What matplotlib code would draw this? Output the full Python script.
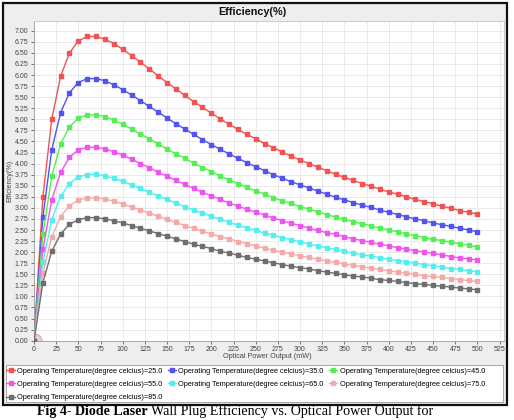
import matplotlib.pyplot as plt
from matplotlib.patches import Rectangle

# optical power output (mW)
power = [0, 10, 20, 30, 40, 50, 60, 70, 80, 90, 100, 110, 120, 130, 140, 150, 160, 170, 180, 190,
         200, 210, 220, 230, 240, 250, 260, 270, 280, 290, 300, 310, 320, 330, 340, 350, 360, 370,
         380, 390, 400, 410, 420, 430, 440, 450, 460, 470, 480, 490, 500]

# efficiency (%) for each operating temperature
eff_25 = [0, 3.24, 5.00, 5.97, 6.50, 6.77, 6.87, 6.87, 6.81, 6.71, 6.58, 6.44, 6.29, 6.14, 5.98, 5.83,
          5.69, 5.54, 5.40, 5.27, 5.14, 5.01, 4.89, 4.77, 4.66, 4.56, 4.45, 4.36, 4.26, 4.17, 4.08,
          4.00, 3.92, 3.84, 3.76, 3.69, 3.62, 3.55, 3.49, 3.42, 3.36, 3.31, 3.25, 3.19, 3.14, 3.09,
          3.04, 2.99, 2.94, 2.90, 2.86]
eff_35 = [0, 2.79, 4.31, 5.15, 5.60, 5.83, 5.92, 5.92, 5.87, 5.78, 5.67, 5.55, 5.42, 5.29, 5.16, 5.03,
          4.90, 4.78, 4.66, 4.54, 4.43, 4.32, 4.22, 4.12, 4.02, 3.93, 3.84, 3.75, 3.67, 3.59, 3.52,
          3.45, 3.38, 3.31, 3.24, 3.18, 3.12, 3.06, 3.01, 2.95, 2.90, 2.85, 2.80, 2.75, 2.71, 2.66,
          2.62, 2.58, 2.54, 2.50, 2.46]
eff_45 = [0, 2.40, 3.71, 4.44, 4.83, 5.03, 5.10, 5.10, 5.06, 4.98, 4.89, 4.78, 4.67, 4.56, 4.44, 4.33,
          4.22, 4.12, 4.01, 3.91, 3.82, 3.72, 3.63, 3.55, 3.46, 3.38, 3.31, 3.23, 3.16, 3.10, 3.03,
          2.97, 2.91, 2.85, 2.79, 2.74, 2.69, 2.64, 2.59, 2.54, 2.50, 2.46, 2.41, 2.37, 2.33, 2.29,
          2.26, 2.22, 2.19, 2.15, 2.12]
eff_55 = [0, 2.06, 3.18, 3.80, 4.14, 4.31, 4.37, 4.37, 4.33, 4.27, 4.19, 4.10, 4.00, 3.91, 3.81, 3.71,
          3.62, 3.53, 3.44, 3.35, 3.27, 3.19, 3.11, 3.04, 2.97, 2.90, 2.84, 2.77, 2.71, 2.65, 2.60,
          2.54, 2.49, 2.44, 2.40, 2.35, 2.30, 2.26, 2.22, 2.18, 2.14, 2.10, 2.07, 2.03, 2.00, 1.97,
          1.94, 1.90, 1.87, 1.85, 1.82]
eff_65 = [0, 1.77, 2.73, 3.26, 3.55, 3.70, 3.75, 3.76, 3.72, 3.67, 3.60, 3.52, 3.44, 3.35, 3.27, 3.19,
          3.11, 3.03, 2.95, 2.88, 2.81, 2.74, 2.67, 2.61, 2.55, 2.49, 2.43, 2.38, 2.33, 2.28, 2.23,
          2.18, 2.14, 2.10, 2.06, 2.02, 1.98, 1.94, 1.91, 1.87, 1.84, 1.81, 1.78, 1.75, 1.72, 1.69,
          1.66, 1.63, 1.61, 1.58, 1.56]
eff_75 = [0, 1.52, 2.35, 2.80, 3.05, 3.18, 3.22, 3.23, 3.20, 3.15, 3.09, 3.02, 2.95, 2.88, 2.81, 2.74,
          2.67, 2.60, 2.54, 2.47, 2.41, 2.35, 2.30, 2.24, 2.19, 2.14, 2.09, 2.04, 2.00, 1.96, 1.92,
          1.88, 1.84, 1.80, 1.77, 1.73, 1.70, 1.67, 1.64, 1.61, 1.58, 1.55, 1.53, 1.50, 1.47, 1.45,
          1.43, 1.40, 1.38, 1.36, 1.34]
eff_85 = [0, 1.31, 2.02, 2.41, 2.63, 2.73, 2.78, 2.78, 2.75, 2.71, 2.66, 2.60, 2.54, 2.48, 2.42, 2.36,
          2.30, 2.24, 2.18, 2.13, 2.08, 2.02, 1.98, 1.93, 1.88, 1.84, 1.80, 1.76, 1.72, 1.68, 1.65,
          1.62, 1.58, 1.55, 1.52, 1.49, 1.46, 1.44, 1.41, 1.38, 1.36, 1.34, 1.31, 1.29, 1.27, 1.25,
          1.23, 1.21, 1.19, 1.17, 1.15]

temps = ["25.0", "35.0", "45.0", "55.0", "65.0", "75.0", "85.0"]
series = [eff_25, eff_35, eff_45, eff_55, eff_65, eff_75, eff_85]
colors = ["#f25252", "#5353f0", "#55ee55", "#ee55ee", "#55eeee", "#f5aaaa", "#6e6e6e"]

x_ticks = [0, 25, 50, 75, 100, 125, 150, 175, 200, 225, 250, 275, 300, 325, 350, 375, 400,
           425, 450, 475, 500, 525]
y_ticks = [0.00, 0.25, 0.50, 0.75, 1.00, 1.25, 1.50, 1.75, 2.00, 2.25, 2.50, 2.75, 3.00, 3.25,
           3.50, 3.75, 4.00, 4.25, 4.50, 4.75, 5.00, 5.25, 5.50, 5.75, 6.00, 6.25, 6.50, 6.75, 7.00]

W, H = 514, 420
plt.rcParams["font.family"] = ["Liberation Sans", "DejaVu Sans"]

fig = plt.figure(figsize=(W / 100, H / 100), dpi=100)
fig.patch.set_facecolor("white")

# chart panel with black frame, then white legend box
fig.patches.append(Rectangle((3 / W, 1 - 405 / H), 504 / W, 402 / H, transform=fig.transFigure,
                             facecolor="#eeeeee", edgecolor="#111111", linewidth=1.6, zorder=0))
fig.patches.append(Rectangle((6 / W, 1 - 402 / H), 497 / W, 37 / H, transform=fig.transFigure,
                             facecolor="white", edgecolor="#999999", linewidth=0.6, zorder=0.5))

ax = fig.add_axes([34 / W, 1 - 340.7 / H, 470 / W, 319.7 / H])
ax.set_zorder(2)
ax.set_facecolor("white")

handles = []
for i in range(len(series)):
    line, = ax.plot(power, series[i], color=colors[i], linewidth=1.0, marker="s", markersize=3.0,
                    label="Operating Temperature(degree celcius)=" + temps[i], zorder=3)
    handles.append(line)

# odd circle blob at the origin in the original
ax.plot(power[0], eff_85[0], marker="o", markersize=11, markerfacecolor="#d9d9e6",
        markeredgecolor="#f0a0a0", markeredgewidth=0.8, zorder=2)

ax.set_xlim(0, 530)
ax.set_ylim(0, 7.22)
ax.set_xticks(x_ticks)
ax.set_yticks(y_ticks)
ax.set_yticklabels(["%.2f" % v for v in y_ticks])
ax.tick_params(labelsize=5, colors="#444444", length=2, width=0.5, pad=2)
ax.grid(True, color="#e6e6e6", linewidth=0.6)
ax.set_axisbelow(True)
for s in ax.spines.values():
    s.set_color("#c4c4c4")
    s.set_linewidth(0.6)
ax.spines["left"].set_color("#999999")
ax.spines["bottom"].set_color("#999999")

fig.text(252 / W, 1 - 12 / H, "Efficiency(%)", ha="center", va="center", fontsize=7.8,
         fontweight="bold", color="#111111")
fig.text(267 / W, 1 - 357 / H, "Optical Power Output (mW)", ha="center", va="center",
         fontsize=5.2, color="#444444")
fig.text(10 / W, 1 - 181 / H, "Efficiency(%)", ha="center", va="center", rotation=90,
         fontsize=5.2, color="#444444")

# legend filled row by row like the original
order = [0, 3, 6, 1, 4, 2, 5]
leg = fig.legend([handles[i] for i in order], [handles[i].get_label() for i in order],
                 loc="upper left", bbox_to_anchor=(5 / W, 1 - 366 / H), ncol=3, frameon=False,
                 fontsize=5.3, handlelength=1.1, handletextpad=0.35, columnspacing=0.7,
                 borderpad=0.2, labelspacing=0.85, borderaxespad=0, markerscale=0.9)
leg.set_zorder(5)

# caption below the chart (cut off at the bottom like the scan)
t1 = fig.text(37 / W, 1 - 405.5 / H, "Fig 4- Diode Laser ", ha="left", va="top",
              fontsize=10.1, fontweight="bold", family="Liberation Serif")
ax.annotate("Wall Plug Efficiency vs. Optical Power Output for", xy=(1, 0), xycoords=t1,
            ha="left", va="bottom", fontsize=10.1, family="Liberation Serif",
            annotation_clip=False)

plt.savefig("out.png", dpi=100)
